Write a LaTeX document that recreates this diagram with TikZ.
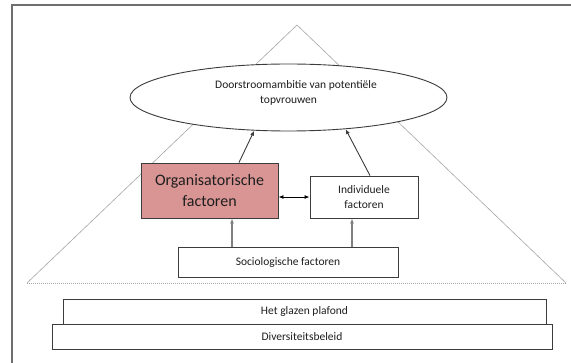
\documentclass[tikz,border=0pt]{standalone}
\usepackage{fontspec}
\setmainfont{Carlito}
\usetikzlibrary{shapes.geometric,arrows.meta,calc}
\definecolor{framegray}{HTML}{6E6E6E}
\definecolor{trigray}{HTML}{A6A6A6}
\definecolor{boxline}{HTML}{3C3C3C}
\definecolor{orgfill}{HTML}{D99594}
\definecolor{uparrow}{HTML}{7F7F7F}
\definecolor{txt}{HTML}{1E1E1E}
\begin{document}
\begin{tikzpicture}[x=1pt,y=-1pt,
  smalltext/.style={font=\fontsize{11.5}{15.5}\selectfont, text=txt},
  factorbox/.style={draw=boxline, line width=0.9pt, fill=white, inner sep=0pt, align=center, smalltext},
  basebox/.style={factorbox},
  darr/.style={-{Latex[length=5pt,width=4pt]}, draw=boxline, line width=0.9pt},
  garr/.style={-{Latex[length=5pt,width=4pt]}, draw=uparrow, line width=1.5pt},
  bothway/.style={{Latex[length=5pt,width=4pt]}-{Latex[length=5pt,width=4pt]}, draw=black, line width=0.9pt}]
\useasboundingbox (0,0) rectangle (571,363);
\fill[white] (0,0) rectangle (571,363);

% page frame (only top and left edges fall inside the view)
\draw[framegray, line width=1.5pt] (571,5) -- (12,5) -- (12,363);

% triangle in the background
\coordinate (apex) at (297,25);
\coordinate (bl) at (27,283);
\coordinate (br) at (566,283);
\draw[trigray, line width=0.6pt] (bl) -- (apex) -- (br);
\draw[trigray, line width=0.7pt, dash pattern=on 1pt off 1pt] (bl) -- (br);

% ambition ellipse
\node[ellipse, draw=boxline, line width=0.9pt, fill=white, minimum width=317pt, minimum height=67pt, inner sep=0pt] (ell) at (288.5,97.5) {};
\node[smalltext, anchor=west, align=left, inner sep=0pt] (elltext) at (215,93)
  {Doorstroomambitie van potentiële\\\hspace*{45pt}topvrouwen};

% factor boxes
\node[factorbox, fill=orgfill, minimum width=137pt, minimum height=55pt, font=\fontsize{16}{21}\selectfont] (org) at (209.5,190.5) {Organisatorische\\factoren};
\node[factorbox, minimum width=108pt, minimum height=42pt] (ind) at (364,197) {Individuele\\factoren};
\node[factorbox, minimum width=220pt, minimum height=30pt] (soc) at (288,262) {Sociologische factoren};

% base layers
\node[basebox, minimum width=483pt, minimum height=25pt] (glas) at (304.5,311.5) {Het glazen plafond};
\node[basebox, minimum width=500pt, minimum height=25pt] (div) at (302,336.5) {Diversiteitsbeleid};

% connectors
\draw[darr] ([xshift=29.5pt]org.north) -- (ell.224);
\draw[darr] ([xshift=6pt]ind.north) -- (ell.331);
\draw[bothway] (org.east |- ind.west) -- (ind.west);
\coordinate (orgin) at ([xshift=22.5pt]org.south);
\coordinate (indin) at ([xshift=-12pt]ind.south);
\draw[garr] (soc.north -| orgin) -- (orgin);
\draw[garr] (soc.north -| indin) -- (indin);
\end{tikzpicture}
\end{document}
